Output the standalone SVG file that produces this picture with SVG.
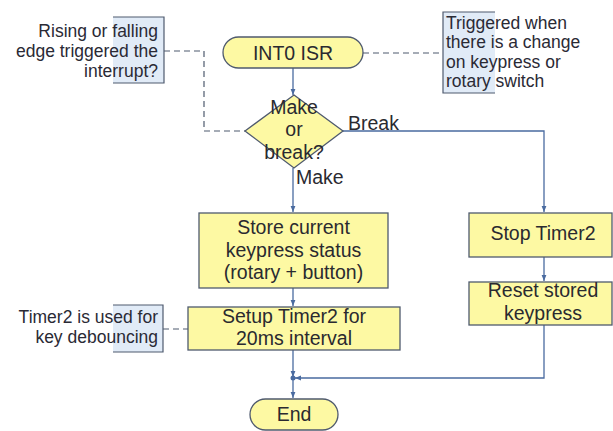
<svg xmlns="http://www.w3.org/2000/svg" width="613" height="431" viewBox="0 0 613 431">
<defs>
<marker id="arr" viewBox="0 0 10 10" refX="10" refY="5" markerWidth="6" markerHeight="6" orient="auto" markerUnits="userSpaceOnUse">
<path d="M0,1 L10,5 L0,9 Z" fill="#4a6ba0"/>
</marker>
<style>
.n{fill:#fdf9a3;stroke:#4f5a6e;stroke-width:1.3}
.t{font-family:"Liberation Sans",Arial,sans-serif;font-size:19.5px;fill:#2a2a30}
.s{font-family:"Liberation Sans",Arial,sans-serif;font-size:17.5px;fill:#2a2a35}
.c{fill:none;stroke:#4a6ba0;stroke-width:1.3}
.d{fill:none;stroke:#4f5a6e;stroke-width:1.2;stroke-dasharray:6,4}
</style>
</defs>
<rect width="613" height="431" fill="#ffffff"/>
<g id="connectors">
<path class="c" d="M293,68 V95" marker-end="url(#arr)"/>
<path class="c" d="M293,168 V212" marker-end="url(#arr)"/>
<path class="c" d="M343,131 H544 V212" marker-end="url(#arr)"/>
<path class="c" d="M293,288 V306" marker-end="url(#arr)"/>
<path class="c" d="M293,350 V377" marker-end="url(#arr)"/>
<path class="c" d="M544,257 V281" marker-end="url(#arr)"/>
<path class="c" d="M544,325 V378 H295" marker-end="url(#arr)"/>
<path class="c" d="M293,378 V398" marker-end="url(#arr)"/>
<path class="d" d="M363,53 H443"/>
<path class="d" d="M164,51 H204 V131 H245"/>
<path class="d" d="M163,329 H188"/>
<text class="t" x="348" y="130">Break</text>
<text class="t" x="296" y="184">Make</text>
</g>
<g id="start">
<rect class="n" x="223" y="37" width="140" height="31" rx="15.5"/>
<text class="t" x="293" y="60" text-anchor="middle">INT0 ISR</text>
</g>
<g id="decision">
<path class="n" d="M294,95 L343,131 L294,168 L245,131 Z"/>
<text class="t" text-anchor="middle"><tspan x="294" y="114">Make</tspan><tspan x="294" y="136">or</tspan><tspan x="294" y="159">break?</tspan></text>
</g>
<g id="store">
<rect class="n" x="199" y="213" width="189" height="75"/>
<text class="t" text-anchor="middle"><tspan x="293.5" y="234">Store current</tspan><tspan x="293.5" y="257">keypress status</tspan><tspan x="293.5" y="279">(rotary + button)</tspan></text>
</g>
<g id="setup">
<rect class="n" x="188" y="307" width="212" height="43"/>
<text class="t" text-anchor="middle"><tspan x="294" y="323">Setup Timer2 for</tspan><tspan x="294" y="345">20ms interval</tspan></text>
</g>
<g id="junction">
<circle cx="293" cy="378" r="2.5" fill="#4a6ba0"/>
</g>
<g id="end">
<rect class="n" x="250" y="399" width="88" height="31" rx="15.5"/>
<text class="t" x="294" y="421" text-anchor="middle">End</text>
</g>
<g id="stop">
<rect class="n" x="469" y="213" width="143" height="44"/>
<text class="t" x="543" y="240" text-anchor="middle">Stop Timer2</text>
</g>
<g id="reset">
<rect class="n" x="469" y="282" width="143" height="43"/>
<text class="t" text-anchor="middle"><tspan x="543" y="297">Reset stored</tspan><tspan x="543" y="320">keypress</tspan></text>
</g>
<g id="note-trigger">
<rect x="443" y="12" width="52" height="81" fill="#e1ebf7"/>
<path d="M495,12 H443 V93 H495" fill="none" stroke="#4f5a6e" stroke-width="1.2"/>
<text class="s"><tspan x="446" y="29">Triggered when</tspan><tspan x="446" y="48">there is a change</tspan><tspan x="446" y="68">on keypress or</tspan><tspan x="446" y="87">rotary switch</tspan></text>
</g>
<g id="note-edge">
<rect x="113" y="17" width="51" height="66" fill="#e1ebf7"/>
<path d="M113,17 H164 V83 H113" fill="none" stroke="#4f5a6e" stroke-width="1.2"/>
<text class="s" text-anchor="end"><tspan x="158" y="37">Rising or falling</tspan><tspan x="158" y="57">edge triggered the</tspan><tspan x="158" y="77">interrupt?</tspan></text>
</g>
<g id="note-timer">
<rect x="113" y="305" width="50" height="47" fill="#e1ebf7"/>
<path d="M113,305 H163 V352 H113" fill="none" stroke="#4f5a6e" stroke-width="1.2"/>
<text class="s" text-anchor="end"><tspan x="158" y="323">Timer2 is used for</tspan><tspan x="158" y="343">key debouncing</tspan></text>
</g>
</svg>
